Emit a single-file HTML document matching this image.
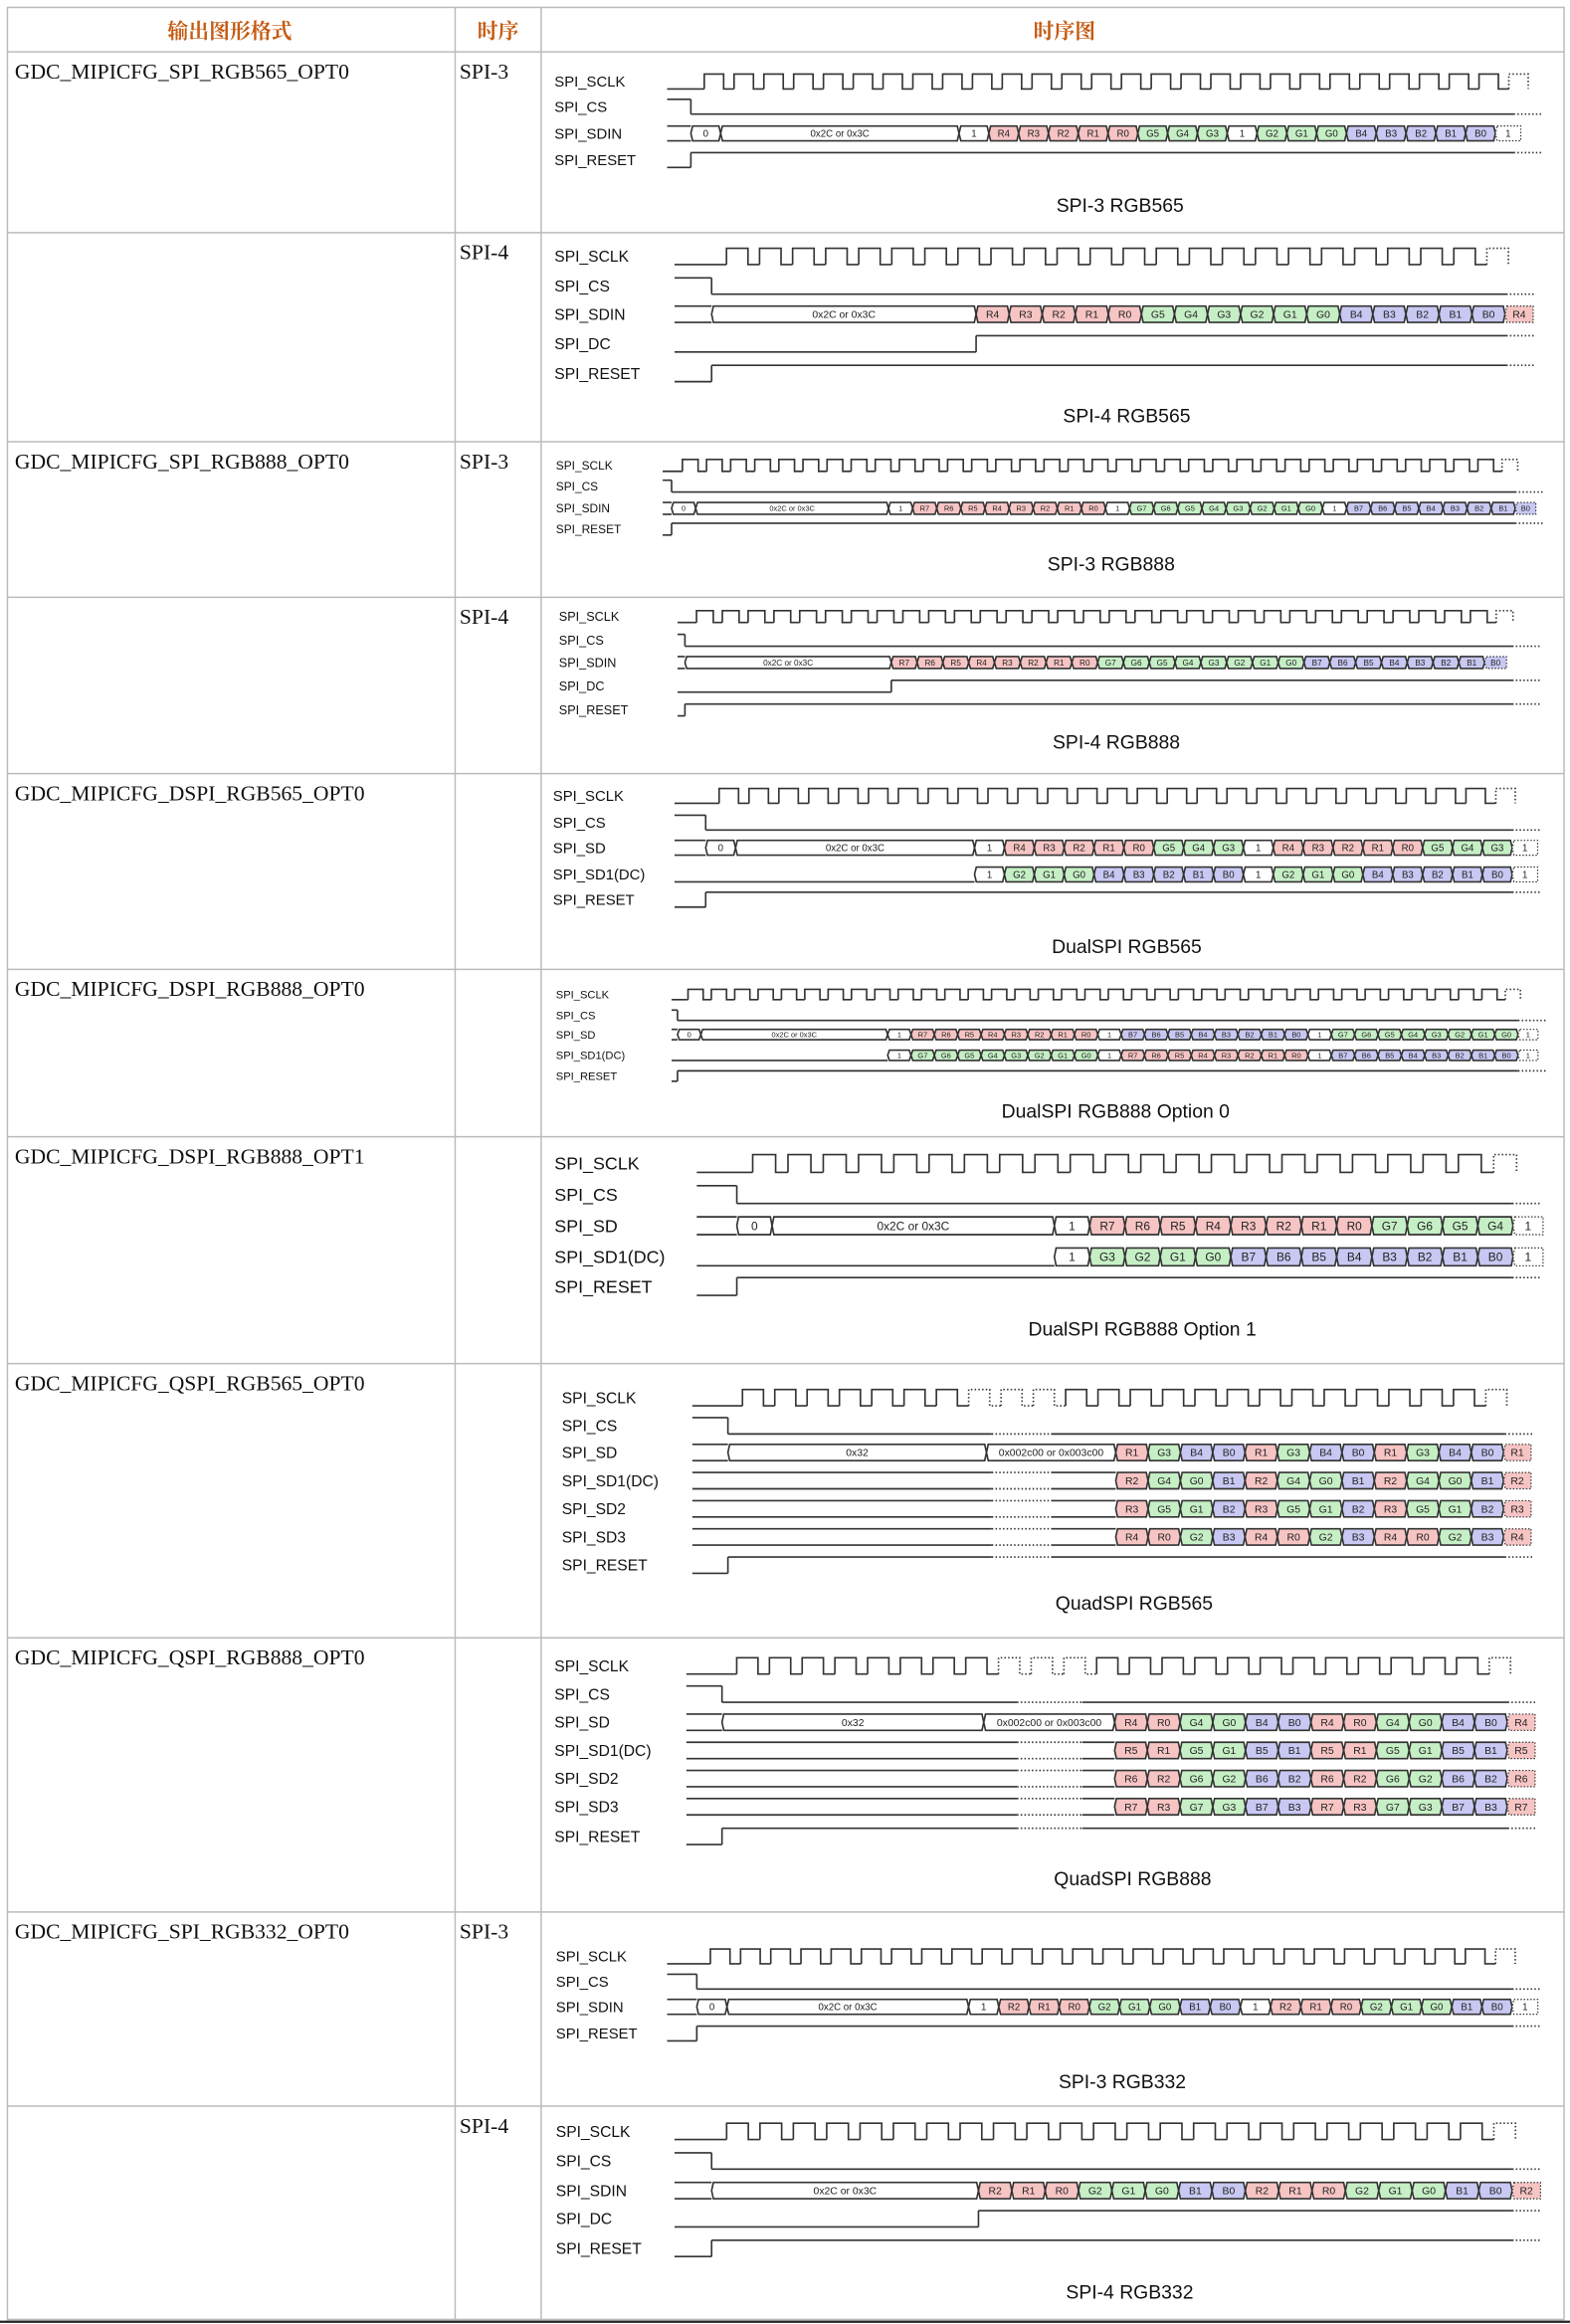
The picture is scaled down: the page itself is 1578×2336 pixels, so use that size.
<!DOCTYPE html>
<html><head><meta charset="utf-8"><style>
html,body{margin:0;padding:0;background:#fff;}
svg{display:block;}
</style></head><body>
<svg id="root" width="1578" height="2336" viewBox="0 0 1059 1568" preserveAspectRatio="none" xmlns="http://www.w3.org/2000/svg">
<g id="table"></g>
<g id="diagrams"></g>
</svg>
<script>
// ---- Table data ----
const rowLines = [35, 157, 298, 403, 522, 654, 767, 920, 1105, 1290, 1421, 1565];
const formatNames = ['GDC_MIPICFG_SPI_RGB565_OPT0','','GDC_MIPICFG_SPI_RGB888_OPT0','','GDC_MIPICFG_DSPI_RGB565_OPT0','GDC_MIPICFG_DSPI_RGB888_OPT0','GDC_MIPICFG_DSPI_RGB888_OPT1','GDC_MIPICFG_QSPI_RGB565_OPT0','GDC_MIPICFG_QSPI_RGB888_OPT0','GDC_MIPICFG_SPI_RGB332_OPT0',''];
const timingModes = ['SPI-3','SPI-4','SPI-3','SPI-4','','','','','','SPI-3','SPI-4'];
const headers = ['输出图形格式','时序','时序图'];

// ---- Bus sequences ----
const d1_sdin = ['0','0x2C or 0x3C:8','1','R4','R3','R2','R1','R0','G5','G4','G3','1','G2','G1','G0','B4','B3','B2','B1','B0','~1'];
const d2_sdin = ['0x2C or 0x3C:8','R4','R3','R2','R1','R0','G5','G4','G3','G2','G1','G0','B4','B3','B2','B1','B0','~R4'];
const d3_sdin = ['0','0x2C or 0x3C:8','1','R7','R6','R5','R4','R3','R2','R1','R0','1','G7','G6','G5','G4','G3','G2','G1','G0','1','B7','B6','B5','B4','B3','B2','B1','~B0'];
const d4_sdin = ['0x2C or 0x3C:8','R7','R6','R5','R4','R3','R2','R1','R0','G7','G6','G5','G4','G3','G2','G1','G0','B7','B6','B5','B4','B3','B2','B1','~B0'];
const d5_sd = ['0','0x2C or 0x3C:8','1','R4','R3','R2','R1','R0','G5','G4','G3','1','R4','R3','R2','R1','R0','G5','G4','G3','~1'];
const d5_sd1 = ['1','G2','G1','G0','B4','B3','B2','B1','B0','1','G2','G1','G0','B4','B3','B2','B1','B0','~1'];
const d6_sd = ['0','0x2C or 0x3C:8','1','R7','R6','R5','R4','R3','R2','R1','R0','1','B7','B6','B5','B4','B3','B2','B1','B0','1','G7','G6','G5','G4','G3','G2','G1','G0','~1'];
const d6_sd1 = ['1','G7','G6','G5','G4','G3','G2','G1','G0','1','R7','R6','R5','R4','R3','R2','R1','R0','1','B7','B6','B5','B4','B3','B2','B1','B0','~1'];
const d7_sd = ['0','0x2C or 0x3C:8','1','R7','R6','R5','R4','R3','R2','R1','R0','G7','G6','G5','G4','~1'];
const d7_sd1 = ['1','G3','G2','G1','G0','B7','B6','B5','B4','B3','B2','B1','B0','~1'];
const d8_sd = ['0x32:8','0x002c00 or 0x003c00:4','R1','G3','B4','B0','R1','G3','B4','B0','R1','G3','B4','B0','~R1'];
const d8_sd1 = ['R2','G4','G0','B1','R2','G4','G0','B1','R2','G4','G0','B1','~R2'];
const d8_sd2 = ['R3','G5','G1','B2','R3','G5','G1','B2','R3','G5','G1','B2','~R3'];
const d8_sd3 = ['R4','R0','G2','B3','R4','R0','G2','B3','R4','R0','G2','B3','~R4'];
const d9_sd = ['0x32:8','0x002c00 or 0x003c00:4','R4','R0','G4','G0','B4','B0','R4','R0','G4','G0','B4','B0','~R4'];
const d9_sd1 = ['R5','R1','G5','G1','B5','B1','R5','R1','G5','G1','B5','B1','~R5'];
const d9_sd2 = ['R6','R2','G6','G2','B6','B2','R6','R2','G6','G2','B6','B2','~R6'];
const d9_sd3 = ['R7','R3','G7','G3','B7','B3','R7','R3','G7','G3','B7','B3','~R7'];
const d10_sdin = ['0','0x2C or 0x3C:8','1','R2','R1','R0','G2','G1','G0','B1','B0','1','R2','R1','R0','G2','G1','G0','B1','B0','~1'];
const d11_sdin = ['0x2C or 0x3C:8','R2','R1','R0','G2','G1','G0','B1','B0','R2','R1','R0','G2','G1','G0','B1','B0','~R2'];

const diagrams = [
 {title:'SPI-3 RGB565',ty:138,lx:374,fs:10,cfs:6.5,x0:450,st:466,cw:20.1,h:10,end:1021,lanes:[['SPI_SCLK',55,'clk'],['SPI_CS',72,'cs'],['SPI_SDIN',90,'bus',d1_sdin,'double'],['SPI_RESET',108,'reset']]},
 {title:'SPI-4 RGB565',ty:280,lx:374,fs:10.5,cfs:7,x0:455,st:480,cw:22.3,h:11,end:1016,lanes:[['SPI_SCLK',173,'clk'],['SPI_CS',193,'cs'],['SPI_SDIN',212,'bus',d2_sdin,'double'],['SPI_DC',232,'dc',8],['SPI_RESET',252,'reset']]},
 {title:'SPI-3 RGB888',ty:380,lx:375,fs:8,cfs:5,x0:447,st:453,cw:16.26,h:8,end:1022,lanes:[['SPI_SCLK',314,'clk'],['SPI_CS',328,'cs'],['SPI_SDIN',343,'bus',d3_sdin,'double'],['SPI_RESET',357,'reset']]},
 {title:'SPI-4 RGB888',ty:500,lx:377,fs:8.5,cfs:5.5,x0:457,st:462,cw:17.4,h:8,end:1020,lanes:[['SPI_SCLK',416,'clk'],['SPI_CS',432,'cs'],['SPI_SDIN',447,'bus',d4_sdin,'double'],['SPI_DC',463,'dc',8],['SPI_RESET',479,'reset']]},
 {title:'DualSPI RGB565',ty:638,lx:373,fs:10,cfs:6.5,x0:455,st:476,cw:20.15,h:10,end:1020,lanes:[['SPI_SCLK',537,'clk'],['SPI_CS',555,'cs'],['SPI_SD',572,'bus',d5_sd,'double'],['SPI_SD1(DC)',590,'bus',d5_sd1,'single',9],['SPI_RESET',607,'reset']]},
 {title:'DualSPI RGB888 Option 0',ty:749,lx:375,fs:7.5,cfs:5,x0:453,st:457,cw:15.75,h:7,end:1024,lanes:[['SPI_SCLK',671,'clk'],['SPI_CS',685,'cs'],['SPI_SD',698,'bus',d6_sd,'double'],['SPI_SD1(DC)',712,'bus',d6_sd1,'single',9],['SPI_RESET',726,'reset']]},
 {title:'DualSPI RGB888 Option 1',ty:896,lx:374,fs:12,cfs:8,x0:470,st:497,cw:23.8,h:12,end:1020,lanes:[['SPI_SCLK',785,'clk'],['SPI_CS',806,'cs'],['SPI_SD',827,'bus',d7_sd,'double'],['SPI_SD1(DC)',848,'bus',d7_sd1,'single',9],['SPI_RESET',868,'reset']]},
 {title:'QuadSPI RGB565',ty:1081,lx:379,fs:10.5,cfs:7,x0:467,st:491,cw:21.8,h:11,end:1015,gap:[669,709],lanes:[['SPI_SCLK',943,'clk'],['SPI_CS',962,'cs'],['SPI_SD',980,'bus',d8_sd,'double'],['SPI_SD1(DC)',999,'bus',d8_sd1,'double',12],['SPI_SD2',1018,'bus',d8_sd2,'double',12],['SPI_SD3',1037,'bus',d8_sd3,'double',12],['SPI_RESET',1056,'reset']]},
 {title:'QuadSPI RGB888',ty:1267,lx:374,fs:10.5,cfs:7,x0:463,st:487,cw:22.07,h:11,end:1017,gap:[686,730],lanes:[['SPI_SCLK',1124,'clk'],['SPI_CS',1143,'cs'],['SPI_SD',1162,'bus',d9_sd,'double'],['SPI_SD1(DC)',1181,'bus',d9_sd1,'double',12],['SPI_SD2',1200,'bus',d9_sd2,'double',12],['SPI_SD3',1219,'bus',d9_sd3,'double',12],['SPI_RESET',1239,'reset']]},
 {title:'SPI-3 RGB332',ty:1404,lx:375,fs:10,cfs:6.5,x0:450,st:470,cw:20.37,h:10,end:1020,lanes:[['SPI_SCLK',1320,'clk'],['SPI_CS',1337,'cs'],['SPI_SDIN',1354,'bus',d10_sdin,'double'],['SPI_RESET',1372,'reset']]},
 {title:'SPI-4 RGB332',ty:1546,lx:375,fs:10.5,cfs:7,x0:455,st:480,cw:22.5,h:11,end:1020,lanes:[['SPI_SCLK',1438,'clk'],['SPI_CS',1458,'cs'],['SPI_SDIN',1478,'bus',d11_sdin,'double'],['SPI_DC',1497,'dc',8],['SPI_RESET',1517,'reset']]}
];

const NS = 'http://www.w3.org/2000/svg';
const SANS = '"Liberation Sans", "DejaVu Sans", sans-serif';
function mk(parent, tag, attrs, txt){
  const e = document.createElementNS(NS, tag);
  for (const k in attrs) e.setAttribute(k, attrs[k]);
  if (txt !== undefined) e.textContent = txt;
  parent.appendChild(e);
  return e;
}
const LC = '#333', LW = 1.1, DUTY = 0.65;

// ---- Table ----
const tg = document.getElementById('table');
const T = mk(tg,'rect',{x:5,y:5,width:1050,height:1560,fill:'none',stroke:'#bbb','stroke-width':1});


mk(tg,'line',{x1:307,y1:5,x2:307,y2:1565,stroke:'#bbb','stroke-width':1});
mk(tg,'line',{x1:365,y1:5,x2:365,y2:1565,stroke:'#bbb','stroke-width':1});
mk(tg,'line',{x1:0,y1:1566.5,x2:1059,y2:1566.5,stroke:'#222','stroke-width':1.5});
rowLines.forEach(y=>{ mk(tg,'line',{x1:5,y1:y,x2:1055,y2:y,stroke:'#bbb','stroke-width':1}); });
const hx = [155,336,718];
headers.forEach((h,i)=>{
  const t = mk(tg,'text',{x:hx[i],y:26,'text-anchor':'middle','font-size':14,'font-weight':'bold',fill:'#c55a11','font-family':'"Liberation Serif", "Noto Serif CJK SC", serif'},h);
  
  
});
formatNames.forEach((n,i)=>{
  const y0 = rowLines[i];
  if(n){
    const t = mk(tg,'text',{x:10,y:y0+18,'font-size':14.5,fill:'#111','font-family':'"Liberation Serif", serif'},n);
    
    
  }
  if(timingModes[i]){
    const t = mk(tg,'text',{x:310,y:y0+18,'font-size':14.5,fill:'#111','font-family':'"Liberation Serif", serif'},timingModes[i]);
    
    
  }
});

// ---- Diagrams ----
const dg = document.getElementById('diagrams');
function hline(g, x1, x2, y, gap){
  if (x2 <= x1) return;
  if (gap && x1 < gap[1] && x2 > gap[0]){
    const a = Math.max(x1,gap[0]), b = Math.min(x2,gap[1]);
    if (a > x1) mk(g,'line',{x1:x1,y1:y,x2:a,y2:y,stroke:LC,'stroke-width':LW});
    mk(g,'line',{x1:a,y1:y,x2:b,y2:y,stroke:LC,'stroke-width':LW,'stroke-dasharray':'1 1.5'});
    if (x2 > b) mk(g,'line',{x1:b,y1:y,x2:x2,y2:y,stroke:LC,'stroke-width':LW});
  } else mk(g,'line',{x1:x1,y1:y,x2:x2,y2:y,stroke:LC,'stroke-width':LW});
}
function fillOf(t){
  const c = t.charAt(0);
  if (c==='R') return '#f7c4c4';
  if (c==='G') return '#c6efc6';
  if (c==='B') return '#c8c8f3';
  return '#fff';
}
diagrams.forEach((d,di)=>{
  const g = mk(dg,'g',{});
  
  
  const h = d.h;
  d.lanes.forEach(L=>{
    const [name, y, type] = L;
    const lb = mk(g,'text',{x:d.lx,y:y+d.fs*0.35,'font-size':d.fs,fill:'#111','font-family':SANS},name);
    
    
    const yh = y - h/2, yl = y + h/2;
    const lg = mk(g,'g',{});
    
    
    if (type==='clk'){
      const first = d.st + d.cw*0.45;
      hline(lg, d.x0, first, yl);
      let t = first;
      while (t + d.cw <= d.end + 2){
        const inGap = d.gap && t + d.cw > d.gap[0] && t < d.gap[1];
        mk(lg,'path',{d:`M${t},${yl}V${yh}H${t+d.cw*DUTY}V${yl}H${t+d.cw}`,fill:'none',stroke:LC,'stroke-width':LW,'stroke-dasharray':inGap?'1 1.5':'none'});
        t += d.cw;
      }
      mk(lg,'path',{d:`M${t},${yl}V${yh}H${t+d.cw*DUTY}V${yl}`,fill:'none',stroke:LC,'stroke-width':LW,'stroke-dasharray':'1 1.5'});
    } else if (type==='cs' || type==='reset' || type==='dc'){
      const sw = type==='dc' ? d.st + L[3]*d.cw : d.st;
      const a = type==='cs' ? yh : yl, b = type==='cs' ? yl : yh;
      hline(lg, d.x0, sw, a, d.gap);
      mk(lg,'line',{x1:sw,y1:yh,x2:sw,y2:yl,stroke:LC,'stroke-width':LW});
      hline(lg, sw, d.end, b, d.gap);
      mk(lg,'line',{x1:d.end,y1:b,x2:d.end+20,y2:b,stroke:LC,'stroke-width':LW,'stroke-dasharray':'1 1.5'});
    } else if (type==='bus'){
      const seq = L[3], mode = L[4];
      let x = d.st + (L[5]||0)*d.cw;
      if (mode==='double'){ hline(lg,d.x0,x,yh,d.gap); hline(lg,d.x0,x,yl,d.gap); }
      else hline(lg,d.x0,x,yl,d.gap);
      const bv = Math.min(1.2, d.cw*0.08);
      seq.forEach(tok=>{
        let partial = false, txt = tok, n = 1;
        if (txt.charAt(0)==='~'){ partial = true; txt = txt.slice(1); }
        const m = txt.match(/^(.*):(\d+)$/);
        if (m){ txt = m[1]; n = +m[2]; }
        const w = partial ? d.cw*0.85 : n*d.cw;
        const x2 = x + w;
        const poly = partial
          ? `${x+bv},${yh} ${x2},${yh} ${x2},${yl} ${x+bv},${yl} ${x},${y}`
          : `${x+bv},${yh} ${x2-bv},${yh} ${x2},${y} ${x2-bv},${yl} ${x+bv},${yl} ${x},${y}`;
        const c = mk(lg,'polygon',{points:poly,fill:fillOf(txt),stroke:LC,'stroke-width':partial?0.8:LW,'stroke-dasharray':partial?'1 1.2':'none'});
        
        
        mk(lg,'text',{x:x+w/2,y:y+d.cfs*0.36,'text-anchor':'middle','font-size':d.cfs,fill:'#222','font-family':SANS},txt);
        x = x2;
      });
    }
  });
  const tt = mk(g,'text',{x:(d.st+d.end)/2 + 12,y:d.ty+5,'text-anchor':'middle','font-size':13,fill:'#111','font-family':SANS},d.title);
  
  
});
</script>
</body></html>
